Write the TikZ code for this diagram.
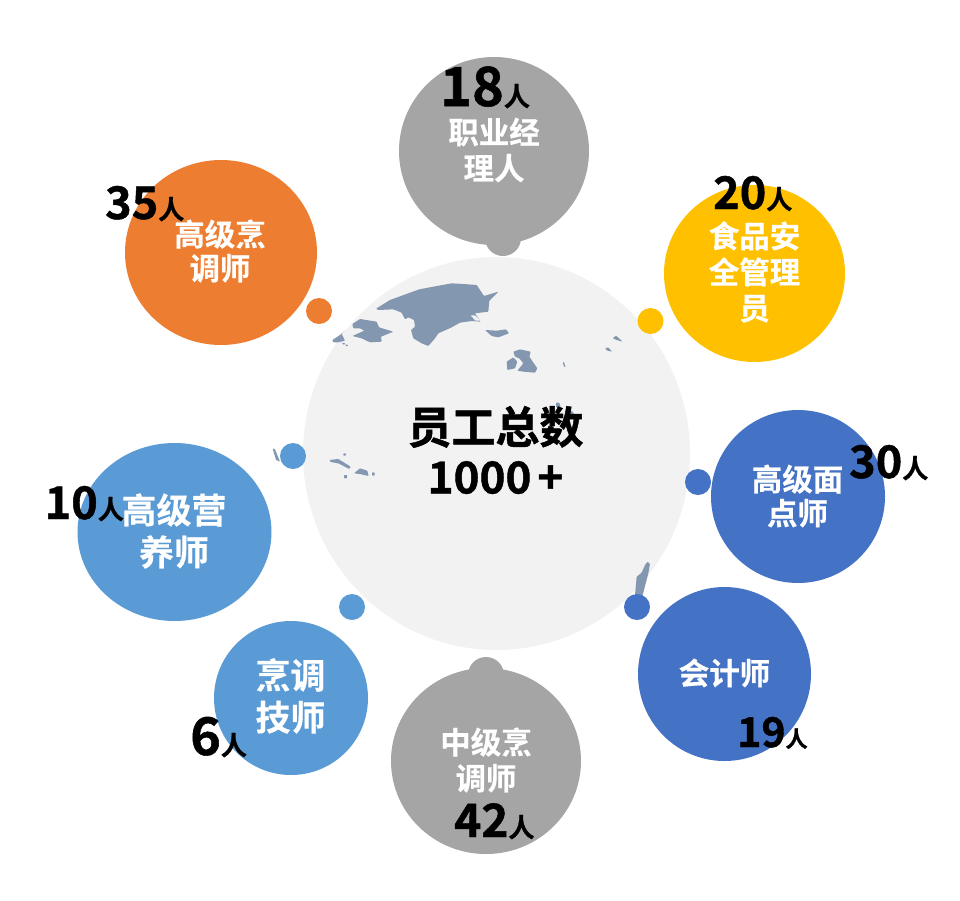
\documentclass[tikz,border=0pt]{standalone}
\usepackage{fontspec}
\usetikzlibrary{shapes.geometric}
\setmainfont{Noto Sans CJK SC}[BoldFont={Noto Sans CJK SC Bold}]
\newfontfamily\heavy{Noto Sans CJK SC Bold}[FakeBold=1.0]
\newfontfamily\semiheavy{Noto Sans CJK SC Bold}[FakeBold=0.4]
\newcommand{\fsz}[1]{\fontsize{#1}{#1}\selectfont}
\newcommand{\fsl}[2]{\fontsize{#1}{#2}\selectfont}
\definecolor{cgray}{HTML}{A5A5A5}
\definecolor{corange}{HTML}{ED7D31}
\definecolor{cyellow}{HTML}{FFC000}
\definecolor{cblue}{HTML}{4472C4}
\definecolor{clight}{HTML}{5B9BD5}
\definecolor{cbg}{HTML}{F2F2F2}
\definecolor{cland}{HTML}{8497B0}
\tikzset{
  bub/.style={ellipse,inner sep=0pt,outer sep=0pt},
  dot/.style={circle,inner sep=0pt,outer sep=0pt},
  land/.style={fill=cland,draw=none,rounded corners=0.7pt},
  lab/.style={anchor=center,text=white,align=center,inner sep=0pt,font=\semiheavy\fsl{30.5}{36}},
  labn/.style={anchor=center,text=white,align=center,inner sep=0pt,font=\semiheavy\fsl{30.5}{34}},
  labb/.style={anchor=center,text=white,align=center,inner sep=0pt,font=\semiheavy\fsl{35}{42}},
  labc/.style={anchor=center,text=black,align=center,inner sep=0pt,font=\heavy\fsl{44}{50}},
  cnt/.style={anchor=base west,inner sep=0pt,text=black,font=\heavy},
}
\begin{document}
\begin{tikzpicture}[x=1pt,y=-1pt]
\useasboundingbox (0,0) rectangle (960,900);
\node[bub,fill=cbg,minimum width=387pt,minimum height=393pt] (centre) at (496.5,453.5) {};
% map
\begin{scope}[shift={(360,270)},scale=1/3]
\fill[land] (48,116)--(90,90)--(150,68)--(178,58)--(220,50)--(275,40)--(310,42)--(350,45)--(372,78)--(415,65)--(388,92)--(385,125)--(345,130)--(362,155)--(335,153)--(300,158)--(275,172)--(235,190)--(225,205)--(205,228)--(185,220)--(160,205)--(153,180)--(165,170)--(162,150)--(145,142)--(135,148)--(125,128)--(100,118)--(55,120)--cycle;
\fill[cbg] (332,136)--(345,136)--(362,152)--(346,152)--cycle;
\end{scope}
\begin{scope}[shift={(325,310)},scale=1/3]
\fill[land] (82,42)--(105,27)--(155,35)--(162,52)--(205,65)--(168,80)--(170,95)--(135,97)--(110,85)--(82,78)--(118,62)--(105,55)--(85,55)--cycle;
\fill[land] (22,90)--(45,75)--(62,60)--(50,72)--(60,92)--(40,97)--(25,97)--cycle;
\fill[land] (50,100)--(60,98)--(58,105)--cycle;
\fill[land] (60,103)--(70,105)--(65,110)--cycle;
\end{scope}
\begin{scope}[shift={(480,320)},scale=1/3]
\fill[land] (15,30)--(50,32)--(78,28)--(87,40)--(55,52)--(35,48)--cycle;
\fill[land] (100,95)--(120,88)--(152,95)--(148,110)--(172,145)--(165,158)--(130,155)--(112,152)--(130,130)--(118,115)--(105,110)--cycle;
\fill[land] (80,125)--(100,112)--(112,125)--(105,145)--(82,150)--cycle;
\end{scope}
\begin{scope}[shift={(260,260)},scale=1/3]
\fill[land] (1058,235)--(1068,227)--(1088,245)--(1070,240)--cycle;
\fill[land] (1035,265)--(1045,262)--(1056,275)--(1042,272)--cycle;
\fill[land] (908,306)--(912,306)--(917,322)--(912,320)--cycle;
\fill[land] (888,428)--(898,428)--(902,442)--(888,442)--cycle;
\fill[land] (925,452)--(935,452)--(946,466)--(930,462)--cycle;
\fill[land] (38,566)--(44,566)--(60,605)--(48,600)--cycle;
\fill[land] (208,600)--(235,597)--(272,620)--(268,627)--(235,610)--(212,606)--cycle;
\fill[land] (282,640)--(300,625)--(322,632)--(326,648)--(300,642)--cycle;
\fill[land] (250,580)--(258,580)--(258,587)--(250,587)--cycle;
\fill[land] (252,645)--(261,645)--(261,655)--(252,655)--cycle;
\fill[land] (336,637)--(344,637)--(344,647)--(336,647)--cycle;
\end{scope}
\begin{scope}[shift={(600,540)},scale=1/3]
\fill[land] (143,65)--(150,72)--(145,100)--(128,165)--(105,165)--(110,110)--(125,98)--(135,75)--cycle;
\end{scope}
% bubbles
\node[bub,fill=cgray,minimum width=190pt,minimum height=188pt] (mgr) at (494,151) {};
\node[dot,fill=cgray,minimum size=36pt] (dmgr) at (503,238) {};
\node[bub,fill=corange,minimum width=192pt,minimum height=185pt] (snr) at (221,252.5) {};
\node[dot,fill=corange,minimum size=26pt] (dsnr) at (319,311) {};
\node[bub,fill=cyellow,minimum width=181pt,minimum height=177pt] (food) at (754.5,273.5) {};
\node[dot,fill=cyellow,minimum size=26pt] (dfood) at (650.5,321) {};
\node[bub,fill=cblue,minimum width=174pt,minimum height=173pt] (past) at (798,496.5) {};
\node[dot,fill=cblue,minimum size=26pt] (dpast) at (698,482) {};
\node[bub,fill=cblue,minimum width=173pt,minimum height=174pt] (acc) at (724.5,674) {};
\node[dot,fill=cblue,minimum size=26pt] (dacc) at (637,607) {};
\node[dot,fill=cgray,minimum size=36pt] (dmid) at (486,675) {};
\node[bub,fill=cgray,minimum width=190pt,minimum height=186pt] (mid) at (486,761) {};
\node[bub,fill=clight,minimum width=154pt,minimum height=154pt] (tech) at (291,698) {};
\node[dot,fill=clight,minimum size=26pt] (dtech) at (352,607) {};
\node[bub,fill=clight,minimum width=194pt,minimum height=178pt] (diet) at (174.5,532) {};
\node[dot,fill=clight,minimum size=26pt] (ddiet) at (293,456) {};
% labels
\node[labc] (tcentre) at (495.5,450) {员工总数\\1000\hspace{6pt}+};
\node[lab] (tmgr) at (494,150) {职业经\\理人};
\node[labn] (tsnr) at (220,251) {高级烹\\调师};
\node[lab] (tfood) at (754.5,272) {食品安\\全管理\\员};
\node[labn] (tpast) at (797.5,496) {高级面\\点师};
\node[lab] (tacc) at (724.5,673) {会计师};
\node[lab] (tmid) at (486,760) {中级烹\\调师};
\node[labb] (ttech) at (290.5,696) {烹调\\技师};
\node[labb] (tdiet) at (174,531) {高级营\\养师};
% counts
\node[cnt] (c18) at (440,106) {\fsz{54}18\fsz{26}人};
\node[cnt] (c20) at (713,209) {\fsz{45}20\fsz{26}人};
\node[cnt] (c30) at (849,478) {\fsz{45}30\fsz{26}人};
\node[cnt] (c35) at (105,219) {\fsz{45}35\fsz{26}人};
\node[cnt] (c10) at (44.5,519) {\fsz{45}10\fsz{26}人};
\node[cnt] (c6) at (190,755) {\fsz{52}6\fsz{26}人};
\node[cnt] (c42) at (454,837) {\fsz{46}42\fsz{26}人};
\node[cnt] (c19) at (737,747) {\fsz{41}19\fsz{22}人};
\end{tikzpicture}
\end{document}
